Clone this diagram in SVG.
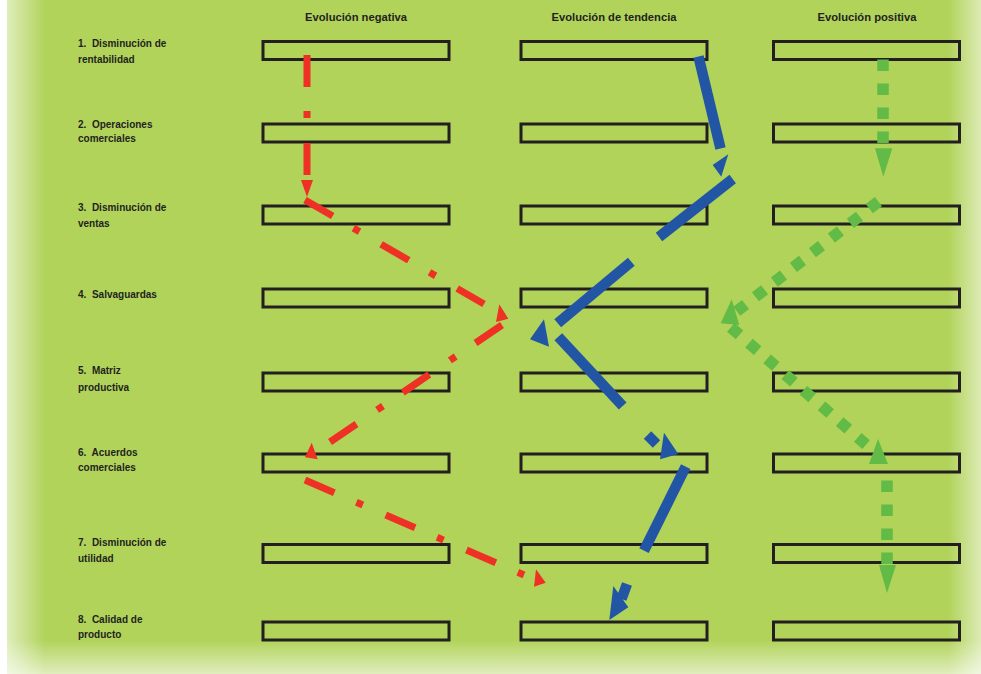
<svg xmlns="http://www.w3.org/2000/svg" width="981" height="674" viewBox="0 0 981 674">
<defs>
<linearGradient id="gl" x1="0" y1="0" x2="1" y2="0"><stop offset="0" stop-color="#fff" stop-opacity="0.6"/><stop offset="1" stop-color="#fff" stop-opacity="0"/></linearGradient>
<linearGradient id="gr" x1="0" y1="0" x2="1" y2="0"><stop offset="0" stop-color="#fff" stop-opacity="0"/><stop offset="1" stop-color="#fff" stop-opacity="0.55"/></linearGradient>
<linearGradient id="gb" x1="0" y1="0" x2="0" y2="1"><stop offset="0" stop-color="#fff" stop-opacity="0"/><stop offset="1" stop-color="#fff" stop-opacity="0.6"/></linearGradient>
</defs>
<style>
.box{fill:none;stroke:#231f20;stroke-width:3}
.hd{font-family:"Liberation Sans",Arial,sans-serif;font-weight:bold;font-size:11.2px;fill:#231f20;text-anchor:middle}
.lb{font-family:"Liberation Sans",Arial,sans-serif;font-weight:bold;font-size:10px;fill:#231f20;white-space:pre}
.red{fill:none;stroke:#ee3124;stroke-width:7;stroke-dasharray:32 24 7 25}
.redh{fill:#ee3124}
.blue{fill:none;stroke:#2255a4;stroke-width:10.5}
.blueh{fill:#2255a4}
.grn{fill:none;stroke:#62bb46;stroke-width:11.5;stroke-dasharray:11.5 12.5}
.grnh{fill:#62bb46}
</style>
<rect x="0" y="0" width="981" height="674" fill="#fff"/>
<rect x="7" y="0" width="974" height="674" fill="#b1d35a"/>
<rect x="7" y="0" width="38" height="674" fill="url(#gl)"/>
<rect x="948" y="0" width="33" height="674" fill="url(#gr)"/>
<rect x="7" y="640" width="974" height="34" fill="url(#gb)"/>

<g id="headers">
<text class="hd" x="356" y="21">Evolución negativa</text>
<text class="hd" x="614" y="21">Evolución de tendencia</text>
<text class="hd" x="867" y="21">Evolución positiva</text>
</g>

<g id="labels">
<text class="lb" x="78" y="47">1.  Disminución de</text><text class="lb" x="78" y="63">rentabilidad</text>
<text class="lb" x="78" y="128">2.  Operaciones</text><text class="lb" x="78" y="142">comerciales</text>
<text class="lb" x="78" y="211">3.  Disminución de</text><text class="lb" x="78" y="227">ventas</text>
<text class="lb" x="78" y="298">4.  Salvaguardas</text>
<text class="lb" x="78" y="374">5.  Matriz</text><text class="lb" x="78" y="391">productiva</text>
<text class="lb" x="78" y="456">6.  Acuerdos</text><text class="lb" x="78" y="471">comerciales</text>
<text class="lb" x="78" y="546">7.  Disminución de</text><text class="lb" x="78" y="562">utilidad</text>
<text class="lb" x="78" y="623">8.  Calidad de</text><text class="lb" x="78" y="638">producto</text>
</g>

<g id="boxes-negativa">
<g id="n1"><rect class="box" x="263" y="41.5" width="186" height="18"/></g>
<g id="n2"><rect class="box" x="263" y="124" width="186" height="18"/></g>
<g id="n3"><rect class="box" x="263" y="206" width="186" height="18"/></g>
<g id="n4"><rect class="box" x="263" y="289" width="186" height="18"/></g>
<g id="n5"><rect class="box" x="263" y="373" width="186" height="18"/></g>
<g id="n6"><rect class="box" x="263" y="454" width="186" height="18"/></g>
<g id="n7"><rect class="box" x="263" y="544.5" width="186" height="18"/></g>
<g id="n8"><rect class="box" x="263" y="622" width="186" height="18"/></g>
</g>
<g id="boxes-tendencia">
<g id="t1"><rect class="box" x="521" y="41.5" width="186" height="18"/></g>
<g id="t2"><rect class="box" x="521" y="124" width="186" height="18"/></g>
<g id="t3"><rect class="box" x="521" y="206" width="186" height="18"/></g>
<g id="t4"><rect class="box" x="521" y="289" width="186" height="18"/></g>
<g id="t5"><rect class="box" x="521" y="373" width="186" height="18"/></g>
<g id="t6"><rect class="box" x="521" y="454" width="186" height="18"/></g>
<g id="t7"><rect class="box" x="521" y="544.5" width="186" height="18"/></g>
<g id="t8"><rect class="box" x="521" y="622" width="186" height="18"/></g>
</g>
<g id="boxes-positiva">
<g id="p1"><rect class="box" x="773.5" y="41.5" width="186" height="18"/></g>
<g id="p2"><rect class="box" x="773.5" y="124" width="186" height="18"/></g>
<g id="p3"><rect class="box" x="773.5" y="206" width="186" height="18"/></g>
<g id="p4"><rect class="box" x="773.5" y="289" width="186" height="18"/></g>
<g id="p5"><rect class="box" x="773.5" y="373" width="186" height="18"/></g>
<g id="p6"><rect class="box" x="773.5" y="454" width="186" height="18"/></g>
<g id="p7"><rect class="box" x="773.5" y="544.5" width="186" height="18"/></g>
<g id="p8"><rect class="box" x="773.5" y="622" width="186" height="18"/></g>
</g>

<g id="connectors">
<g id="red-path">
<line class="red" x1="307" y1="55" x2="307" y2="176"/>
<polygon class="redh" points="301,180 313,180 307,197"/>
<line class="red" x1="305" y1="200" x2="484" y2="304"/>
<polygon class="redh" points="499.3,304.3 508.3,318.7 496,322"/>
<line class="red" x1="502" y1="325" x2="330" y2="442"/>
<polygon class="redh" points="311.7,442.7 305,457.3 317.7,459.3"/>
<line class="red" x1="305" y1="480" x2="524" y2="575"/>
<polygon class="redh" points="536,569.3 545.7,582.7 534,586.7"/>
</g>
<g id="blue-path">
<line class="blue" x1="698.5" y1="56.5" x2="720.5" y2="148.5"/>
<polygon class="blueh" points="728.3,154.3 712.7,165 721.3,176.7"/>
<line class="blue" x1="732.7" y1="179" x2="659" y2="237"/>
<line class="blue" x1="631.3" y1="261.7" x2="557.7" y2="323.3"/>
<polygon class="blueh" points="544,319.3 530,339.3 549,346.7"/>
<line class="blue" x1="558.3" y1="336.7" x2="622.7" y2="406"/>
<line class="blue" x1="647.5" y1="435" x2="656.5" y2="444"/>
<polygon class="blueh" points="664,432.7 678.3,454 660,459.3"/>
<line class="blue" x1="685.7" y1="466.7" x2="644" y2="550.7"/>
<line class="blue" x1="627" y1="584" x2="621.5" y2="599"/>
<polygon class="blueh" points="613.3,586 628.3,607.3 609.3,620"/>
</g>
<g id="green-path">
<line class="grn" x1="883" y1="59.5" x2="883" y2="143"/>
<polygon class="grnh" points="875,148.3 892.3,148.3 883.3,176.7"/>
<line class="grn" x1="878.4" y1="201.6" x2="736.8" y2="311.2"/>
<polygon class="grnh" points="731.7,299.3 720.7,323.3 739.3,325"/>
<line class="grn" x1="730.8" y1="327.4" x2="866.1" y2="444.6"/>
<polygon class="grnh" points="878,439 869,464 888,464"/>
<line class="grn" x1="887" y1="480.5" x2="887" y2="564"/>
<polygon class="grnh" points="879,565 896,565 887,593"/>
</g>
</g>
</svg>
